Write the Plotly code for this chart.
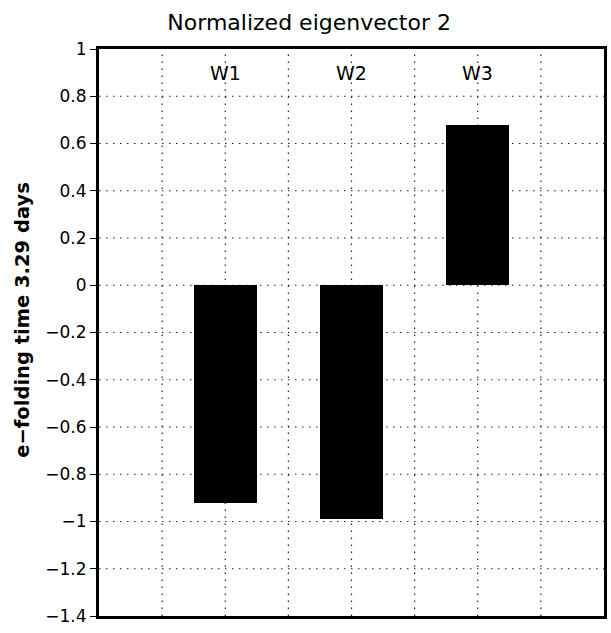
import plotly.graph_objects as go

categories = ["W1", "W2", "W3"]
values = [-0.92, -0.99, 0.68]
y_ticks = [1, 0.8, 0.6, 0.4, 0.2, 0, -0.2, -0.4, -0.6, -0.8, -1, -1.2, -1.4]
y_tick_labels = ["1", "0.8", "0.6", "0.4", "0.2", "0", "\u22120.2", "\u22120.4",
                 "\u22120.6", "\u22120.8", "\u22121", "\u22121.2", "\u22121.4"]

xpos = [2 * (i + 1) for i in range(len(categories))]

fig = go.Figure()
fig.add_trace(go.Bar(x=xpos, y=values, width=1.0, marker=dict(color="black", line=dict(width=0)),
                     showlegend=False))

grid_line = dict(color="#222222", width=1.2, dash="1.5px,5.5px")
for gx in range(1, 8):
    fig.add_shape(type="line", xref="x", yref="y", x0=gx, x1=gx, y0=-1.4, y1=1,
                  line=grid_line, layer="below")
for gy in y_ticks[1:-1]:
    fig.add_shape(type="line", xref="x", yref="y", x0=0, x1=8, y0=gy, y1=gy,
                  line=grid_line, layer="below")

for c, xp in zip(categories, xpos):
    fig.add_annotation(x=xp, y=0.9, text=c, showarrow=False, xref="x", yref="y",
                       font=dict(size=19, color="black", family="DejaVu Sans"))

fig.add_annotation(xref="paper", yref="y", x=0, y=-0.15, xshift=-76, xanchor="center",
                   yanchor="middle", textangle=-90, showarrow=False,
                   text="<b>e\u2212folding time 3.29 days</b>",
                   font=dict(size=19.5, color="black", family="DejaVu Sans"))

fig.update_layout(
    width=611, height=633,
    margin=dict(l=99, r=4, t=49, b=17),
    paper_bgcolor="white", plot_bgcolor="white",
    title=dict(text="Normalized eigenvector 2", x=0.506, xanchor="center", y=0.965, yanchor="middle",
               font=dict(size=22, color="black", family="DejaVu Sans")),
    bargap=0,
)
fig.update_xaxes(range=[0, 8], showgrid=False, zeroline=False, showticklabels=False,
                 showline=True, linecolor="black", linewidth=3, mirror=True, ticks="")
fig.update_yaxes(range=[-1.4, 1], tickvals=y_ticks, ticktext=y_tick_labels, showgrid=False,
                 zeroline=False, showline=True, linecolor="black", linewidth=3, mirror=True,
                 ticks="outside", ticklen=6, tickcolor="black", tickwidth=1,
                 tickfont=dict(size=17, color="black", family="DejaVu Sans"))

fig.write_html("out.html")
